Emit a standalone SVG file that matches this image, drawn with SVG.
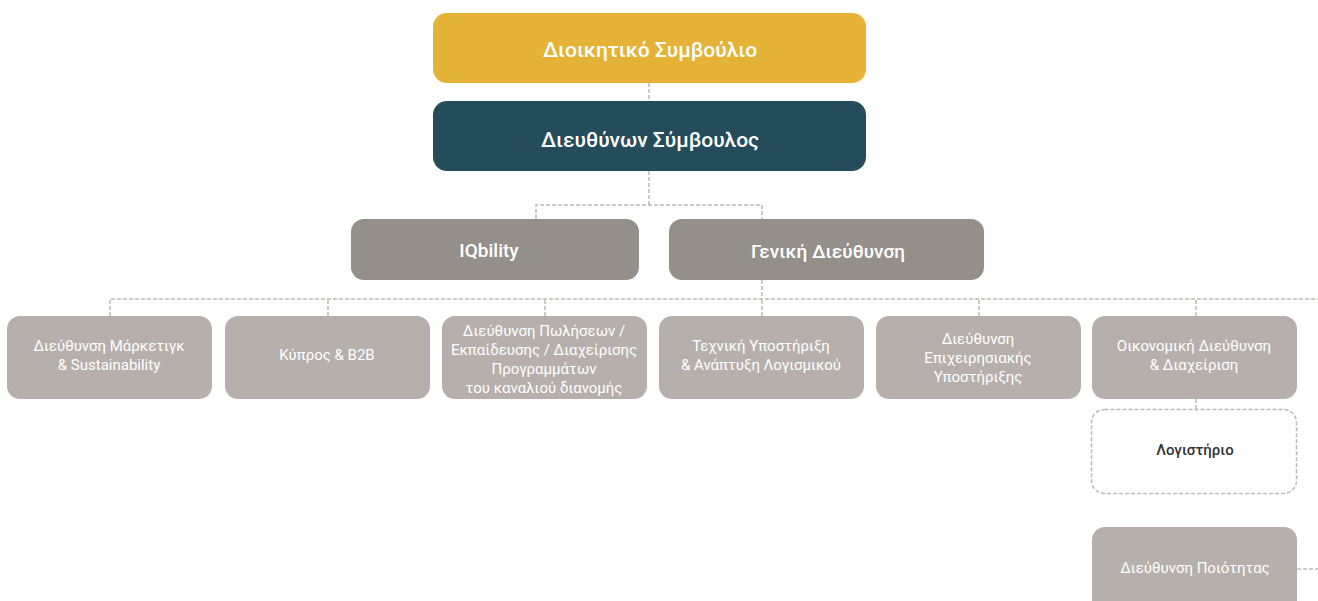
<svg xmlns="http://www.w3.org/2000/svg" width="1318" height="601" viewBox="0 0 1318 601">
<style>
.t{font-family:Roboto,"DejaVu Sans",sans-serif;fill:#fff;text-anchor:middle}
.big{font-size:21px;font-weight:500}
.mid{font-size:19px;font-weight:500}
.sm{font-size:15px}
.l3{fill:#b7afab}
.l2{fill:#958f8a}
.c{fill:none;stroke:#bdb8b5;stroke-width:1.5;stroke-dasharray:4 2}
</style>
<rect width="1318" height="601" fill="#fff"/>
<g id="connectors">
<path class="c" d="M649 83V101"/>
<path class="c" d="M649 171V205M536 219V205H762V219"/>
<path class="c" d="M762 280V299M110 316V299H1318M328 316V299M545 316V299M762 316V299M979 316V299M1196 316V299"/>
<path class="c" d="M1196 399V409"/>
<path class="c" d="M1297 569H1318"/>
</g>
<g id="board"><rect x="433" y="13" width="433" height="70" rx="14" fill="#e5b238"/><text class="t big" x="650" y="57">Διοικητικό Συμβούλιο</text></g>
<g id="ceo"><rect x="433" y="101" width="433" height="70" rx="14" fill="#244c5a"/><text class="t big" x="650" y="147">Διευθύνων Σύμβουλος</text></g>
<g id="iqbility"><rect class="l2" x="351" y="219" width="288" height="61" rx="13"/><text class="t mid" x="489" y="257">IQbility</text></g>
<g id="general"><rect class="l2" x="669" y="219" width="315" height="61" rx="13"/><text class="t mid" x="828" y="258">Γενική Διεύθυνση</text></g>
<g id="marketing"><rect class="l3" x="7" y="316" width="205" height="83" rx="13"/><text class="t sm" x="109" y="351">Διεύθυνση Μάρκετιγκ</text><text class="t sm" x="109" y="370">&amp; Sustainability</text></g>
<g id="cyprus"><rect class="l3" x="225" y="316" width="205" height="83" rx="13"/><text class="t sm" x="327" y="360">Κύπρος &amp; B2B</text></g>
<g id="sales"><rect class="l3" x="442" y="316" width="205" height="83" rx="13"/><text class="t sm" x="544" y="336">Διεύθυνση Πωλήσεων /</text><text class="t sm" x="544" y="355">Εκπαίδευσης / Διαχείρισης</text><text class="t sm" x="544" y="374">Προγραμμάτων</text><text class="t sm" x="544" y="393">του καναλιού διανομής</text></g>
<g id="tech"><rect class="l3" x="659" y="316" width="205" height="83" rx="13"/><text class="t sm" x="761" y="351">Τεχνική Υποστήριξη</text><text class="t sm" x="761" y="370">&amp; Ανάπτυξη Λογισμικού</text></g>
<g id="ops"><rect class="l3" x="876" y="316" width="205" height="83" rx="13"/><text class="t sm" x="978" y="344">Διεύθυνση</text><text class="t sm" x="978" y="363">Επιχειρησιακής</text><text class="t sm" x="978" y="382">Υποστήριξης</text></g>
<g id="finance"><rect class="l3" x="1092" y="316" width="205" height="83" rx="13"/><text class="t sm" x="1194" y="351">Οικονομική Διεύθυνση</text><text class="t sm" x="1194" y="370">&amp; Διαχείριση</text></g>
<g id="accounting"><rect x="1091.5" y="409.5" width="205" height="84" rx="13" fill="#fff" stroke="#bdb8b5" stroke-width="1.5" stroke-dasharray="4 2"/><text class="t sm" x="1195" y="455" style="fill:#333;font-weight:500">Λογιστήριο</text></g>
<g id="quality"><rect class="l3" x="1092" y="527" width="205" height="90" rx="13"/><text class="t sm" x="1195" y="573">Διεύθυνση Ποιότητας</text></g>
</svg>
